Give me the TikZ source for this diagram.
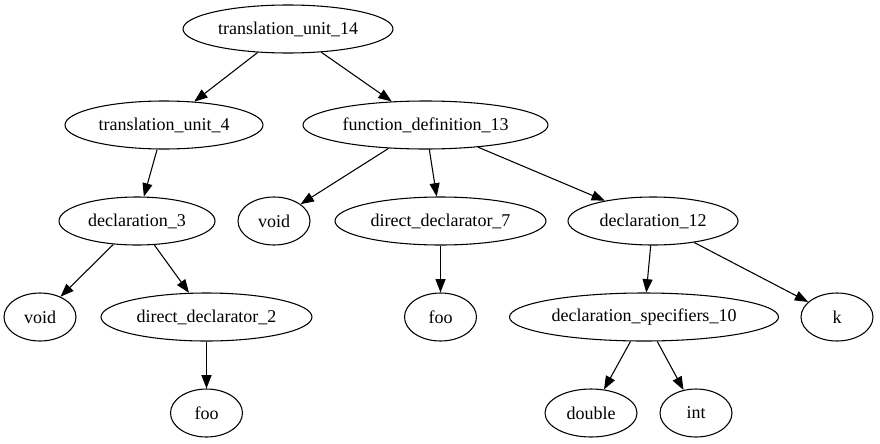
\documentclass[tikz,border=0pt]{standalone}
\usepackage{fontspec}
\setmainfont{Liberation Serif}
\usetikzlibrary{shapes.geometric,arrows.meta}
\begin{document}
\begin{tikzpicture}[x=0.75pt,y=-0.75pt,
  gnode/.style={ellipse,draw,line width=0.8pt,inner sep=0pt,minimum height=36pt,
    font=\fontsize{13.5}{15}\selectfont},
  edge/.style={draw,line width=0.8pt,-{Triangle[length=10pt,width=7.5pt]}}]
\useasboundingbox (0,0) rectangle (880,443);
\node[gnode,minimum width=157.5pt] (tu14) at (288,29) {translation\_unit\_14};
\node[gnode,minimum width=148.5pt] (tu4) at (164,125) {translation\_unit\_4};
\node[gnode,minimum width=183.75pt] (fd13) at (425.5,125) {function\_definition\_13};
\node[gnode,minimum width=117pt] (d3) at (137,221) {declaration\_3};
\node[gnode,minimum width=54pt] (void1) at (40,317) {void};
\node[gnode,minimum width=158.25pt] (dd2) at (206.5,317) {direct\_declarator\_2};
\node[gnode,minimum width=54pt] (foo1) at (206.5,413) {foo};
\node[gnode,minimum width=54pt] (void2) at (274,221) {void};
\node[gnode,minimum width=158.25pt] (dd7) at (440.5,221) {direct\_declarator\_7};
\node[gnode,minimum width=54pt] (foo2) at (440.5,317) {foo};
\node[gnode,minimum width=127.5pt] (d12) at (653,221) {declaration\_12};
\node[gnode,minimum width=201.75pt] (ds10) at (644,317) {declaration\_specifiers\_10};
\node[gnode,minimum width=54pt] (k) at (837,317) {k};
\node[gnode,minimum width=69pt] (dbl) at (591,413) {double};
\node[gnode,minimum width=54pt] (int) at (696,413) {int};
\draw[edge] (tu14) -- (tu4);
\draw[edge] (tu14) -- (fd13);
\draw[edge] (tu4) -- (d3);
\draw[edge] (d3) -- (void1);
\draw[edge] (d3) -- (dd2);
\draw[edge] (dd2) -- (foo1);
\draw[edge] (fd13) -- (void2);
\draw[edge] (fd13) -- (dd7);
\draw[edge] (fd13) -- (d12);
\draw[edge] (dd7) -- (foo2);
\draw[edge] (d12) -- (ds10);
\draw[edge] (d12) -- (k);
\draw[edge] (ds10) -- (dbl);
\draw[edge] (ds10) -- (int);
\end{tikzpicture}
\end{document}
